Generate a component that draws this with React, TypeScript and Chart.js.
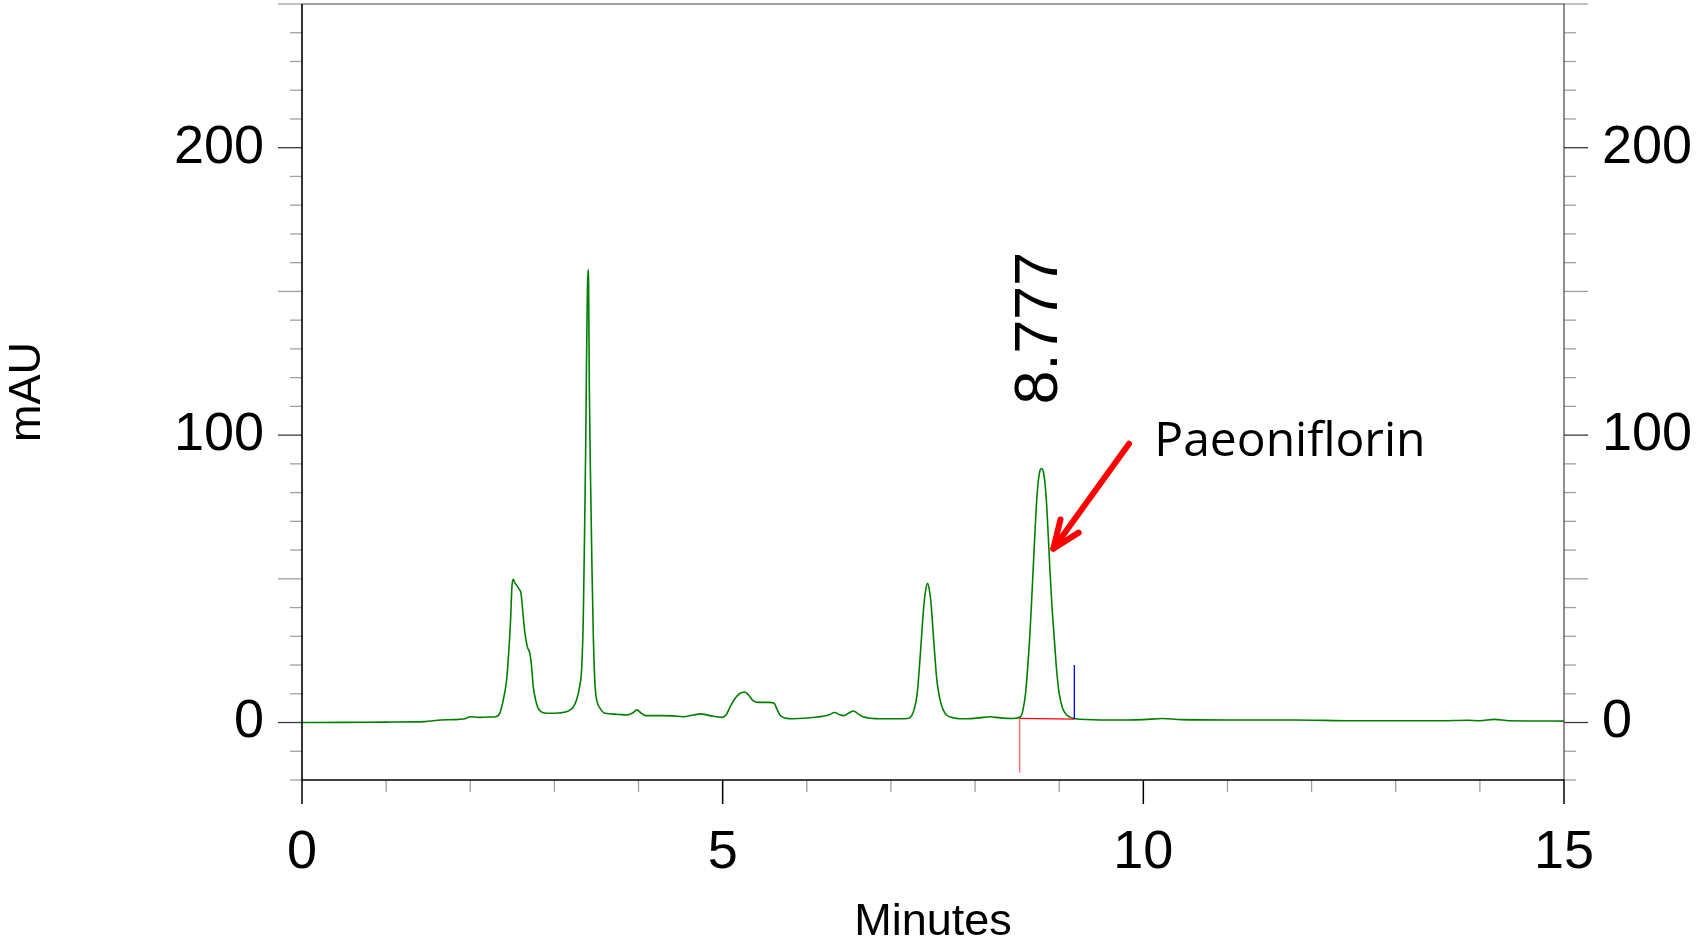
import React, { useEffect, useRef } from 'react';
import { Chart, registerables } from 'chart.js';

Chart.register(...registerables);

// ---- Data ----
const times = [
  0.0, 0.5, 1.0, 1.46, 1.65, 1.8, 1.92, 2.0, 2.1, 2.2, 2.3, 2.35, 2.392, 2.432, 2.451, 2.479, 2.495, 2.511,
  2.53, 2.551, 2.58, 2.603, 2.63, 2.65, 2.678, 2.709, 2.729, 2.749, 2.777, 2.808, 2.868, 2.95, 3.05, 3.15,
  3.22, 3.263, 3.303, 3.323, 3.343, 3.355, 3.371, 3.383, 3.391, 3.399, 3.407, 3.415, 3.431, 3.447, 3.463,
  3.483, 3.51, 3.54, 3.6, 3.74, 3.86, 3.93, 3.98, 4.03, 4.08, 4.28, 4.41, 4.53, 4.65, 4.74, 4.85, 4.99,
  5.04, 5.09, 5.15, 5.2, 5.26, 5.3, 5.365, 5.43, 5.55, 5.61, 5.64, 5.68, 5.74, 5.84, 6.12, 6.26, 6.33,
  6.39, 6.44, 6.5, 6.555, 6.61, 6.67, 6.87, 7.1, 7.21, 7.25, 7.28, 7.31, 7.33, 7.35, 7.37, 7.39, 7.41,
  7.435, 7.46, 7.48, 7.5, 7.52, 7.545, 7.57, 7.59, 7.62, 7.66, 7.75, 7.9, 8.05, 8.18, 8.3, 8.45, 8.54,
  8.57, 8.6, 8.625, 8.65, 8.67, 8.69, 8.71, 8.73, 8.75, 8.77, 8.79, 8.81, 8.83, 8.85, 8.87, 8.89, 8.915,
  8.94, 8.97, 9.0, 9.04, 9.09, 9.19, 9.49, 9.8, 10.0, 10.23, 10.45, 11.0, 11.8, 12.5, 13.5, 13.85, 14.0,
  14.17, 14.35, 15.0,
];

const absorbance = [
  0.0, 0.05, 0.15, 0.3, 0.9, 1.0, 1.2, 2.0, 1.8, 1.9, 2.0, 3.2, 7.8, 14.8, 21.7, 35.6, 47.2, 49.8,
  48.6, 47.8, 46.4, 44.9, 36.8, 31.0, 26.4, 24.0, 19.4, 12.4, 7.8, 4.9, 3.4, 3.2, 3.3, 3.8,
  5.2, 7.8, 13.0, 18.2, 35.6, 58.8, 93.6, 128.3, 148, 157.5, 151.5, 116.7, 82, 53, 29.8,
  13.0, 7.0, 5.1, 3.2, 2.9, 2.6, 3.3, 4.4, 3.3, 2.4, 2.4, 2.3, 2.0, 2.6, 3.0, 2.4, 1.8,
  2.6, 5.5, 8.5, 10.0, 10.6, 9.8, 7.5, 7.0, 7.0, 6.8, 5.0, 2.6, 1.6, 1.3, 1.9, 2.6, 3.5,
  2.7, 2.4, 3.3, 4.0, 3.0, 2.0, 1.3, 1.3, 1.5, 2.6, 5.0, 9.5, 16, 24, 32.5, 40.3, 45.5,
  48.4, 45.5, 40.3, 32, 24, 15, 10, 7.2, 4.5, 2.6, 1.6, 1.3, 1.6, 2.0, 1.6, 1.4, 2.0,
  4.5, 10.1, 19, 29.8, 41, 53, 65, 76.2, 83.5, 87.5, 88.4, 87.5, 83.5, 76.2, 65, 53, 40,
  29.8, 18, 10.1, 5.0, 2.6, 1.3, 0.9, 0.9, 1.0, 1.4, 1.0, 0.9, 0.9, 0.6, 0.6, 0.8, 0.6,
  1.1, 0.6, 0.5,
];

const xRange = [0, 15];
const yRange = [-20, 250];
const xTickLabels = [0, 5, 10, 15];
const yTickLabels = [0, 100, 200];
const xMinorStep = 1;
const yMinorStep = 10;
const yMidStep = 50;

// integration marks of the labelled peak
const baselineTimes = [8.53, 9.18];
const baselineValues = [1.45, 1.2];
const startMarkerValues = [1.45, -17.5];
const endMarkerValues = [1.2, 20];

// peak annotation
const peakLabel = '8.777';
const peakRetention = 8.777;
const peakHeight = 88.4;
const compoundName = 'Paeoniflorin';
const compoundLabelPos = [10.13, 92.6];
const arrowFrom = [9.83, 97];
const arrowTo = [8.93, 60.5];

const FONT = "'Liberation Sans', Arial, Helvetica, sans-serif";

const decorations = {
  id: 'decorations',
  afterDatasetsDraw(chart: any) {
    const { ctx, chartArea: a, scales } = chart;
    const xs = scales.x;
    const ys = scales.y;
    ctx.save();

    const seg = (x1: number, y1: number, x2: number, y2: number) => {
      ctx.beginPath();
      ctx.moveTo(x1, y1);
      ctx.lineTo(x2, y2);
      ctx.stroke();
    };

    // y ticks (left and right)
    ctx.lineWidth = 1.3;
    for (let v = yRange[0]; v <= yRange[1] + 1e-9; v += yMinorStep) {
      const py = ys.getPixelForValue(v);
      const long = v % yMidStep === 0;
      const len = long ? 24 : 12;
      ctx.strokeStyle = yTickLabels.includes(v) ? '#3a3a3a' : '#a0a0a0';
      seg(a.left - len, py, a.left, py);
      seg(a.right, py, a.right + len, py);
    }

    // x ticks
    for (let v = xRange[0]; v <= xRange[1] + 1e-9; v += xMinorStep) {
      const px = xs.getPixelForValue(v);
      const major = xTickLabels.includes(v);
      ctx.strokeStyle = major ? '#000' : '#a0a0a0';
      ctx.lineWidth = major ? 1.5 : 1.3;
      seg(px, a.bottom, px, a.bottom + (major ? 24 : 12));
    }

    // frame
    ctx.strokeStyle = '#444';
    ctx.lineWidth = 1.2;
    seg(a.left, a.top, a.right, a.top);
    seg(a.right, a.top, a.right, a.bottom);
    ctx.strokeStyle = '#000';
    ctx.lineWidth = 1.6;
    seg(a.left, a.top, a.left, a.bottom);
    seg(a.left, a.bottom, a.right, a.bottom);

    // peak retention label (rotated)
    const ppx = xs.getPixelForValue(peakRetention);
    const ppy = ys.getPixelForValue(peakHeight);
    ctx.save();
    ctx.translate(ppx, ppy - 64);
    ctx.rotate(-Math.PI / 2);
    ctx.fillStyle = '#000';
    ctx.font = `61px ${FONT}`;
    ctx.textAlign = 'left';
    ctx.textBaseline = 'middle';
    ctx.fillText(peakLabel, 0, 0);
    ctx.restore();

    // arrow
    const ax0 = xs.getPixelForValue(arrowFrom[0]);
    const ay0 = ys.getPixelForValue(arrowFrom[1]);
    const ax1 = xs.getPixelForValue(arrowTo[0]);
    const ay1 = ys.getPixelForValue(arrowTo[1]);
    ctx.strokeStyle = '#ff0000';
    ctx.lineWidth = 6;
    ctx.lineCap = 'round';
    ctx.lineJoin = 'round';
    seg(ax0, ay0, ax1, ay1);
    const ang = Math.atan2(ay0 - ay1, ax0 - ax1);
    const hl = 30;
    const ha = (22 * Math.PI) / 180;
    ctx.beginPath();
    ctx.moveTo(ax1 + hl * Math.cos(ang - ha), ay1 + hl * Math.sin(ang - ha));
    ctx.lineTo(ax1, ay1);
    ctx.lineTo(ax1 + hl * Math.cos(ang + ha), ay1 + hl * Math.sin(ang + ha));
    ctx.stroke();

    // compound name
    ctx.fillStyle = '#000';
    ctx.font = `48px 'Open Sans', 'Noto Sans', sans-serif`;
    ctx.textAlign = 'left';
    ctx.textBaseline = 'alphabetic';
    ctx.fillText(
      compoundName,
      xs.getPixelForValue(compoundLabelPos[0]),
      ys.getPixelForValue(compoundLabelPos[1])
    );

    ctx.restore();
  },
};

const clearPadding = (s: any) => {
  s.paddingTop = 0;
  s.paddingBottom = 0;
  s.paddingLeft = 0;
  s.paddingRight = 0;
};

export default function App() {
  const ref = useRef<HTMLCanvasElement | null>(null);

  useEffect(() => {
    if (!ref.current) return;
    const trace = times.map((t, i) => ({ x: t, y: absorbance[i] }));
    const baseline = baselineTimes.map((t, i) => ({ x: t, y: baselineValues[i] }));
    const startMark = startMarkerValues.map((v) => ({ x: baselineTimes[0], y: v }));
    const endMark = endMarkerValues.map((v) => ({ x: baselineTimes[1], y: v }));

    const chart = new Chart(ref.current, {
      type: 'line',
      data: {
        datasets: [
          {
            data: baseline,
            borderColor: '#ff0000',
            borderWidth: 1.2,
            pointRadius: 0,
            fill: false,
          },
          {
            data: startMark,
            borderColor: 'rgba(255,60,60,0.7)',
            borderWidth: 1.5,
            pointRadius: 0,
            fill: false,
          },
          {
            data: endMark,
            borderColor: '#0000ff',
            borderWidth: 1.3,
            pointRadius: 0,
            fill: false,
          },
          {
            data: trace,
            borderColor: '#008000',
            borderWidth: 1.6,
            pointRadius: 0,
            fill: false,
            cubicInterpolationMode: 'monotone',
          },
        ],
      },
      options: {
        animation: false,
        responsive: true,
        maintainAspectRatio: false,
        layout: { padding: { top: 4, left: 0, right: 0, bottom: 0 } },
        plugins: { legend: { display: false }, tooltip: { enabled: false } },
        events: [],
        scales: {
          x: {
            type: 'linear',
            position: 'bottom',
            min: xRange[0],
            max: xRange[1],
            afterBuildTicks: (s: any) => {
              s.ticks = xTickLabels.map((v) => ({ value: v }));
            },
            afterFit: (s: any) => {
              s.height = 163;
              clearPadding(s);
            },
            grid: { display: false, drawTicks: false, tickLength: 0 },
            border: { display: false },
            ticks: {
              font: { family: FONT, size: 54, lineHeight: 1 },
              color: '#000',
              padding: 46,
              maxRotation: 0,
              autoSkip: false,
              callback: (v: any) => String(v),
            },
            title: {
              display: true,
              text: 'Minutes',
              font: { family: FONT, size: 45, lineHeight: 0.92 },
              color: '#000',
              padding: 0,
            },
          },
          y: {
            type: 'linear',
            position: 'left',
            min: yRange[0],
            max: yRange[1],
            afterBuildTicks: (s: any) => {
              s.ticks = yTickLabels.map((v) => ({ value: v }));
            },
            afterFit: (s: any) => {
              s.width = 302;
              clearPadding(s);
            },
            grid: { display: false, drawTicks: false, tickLength: 0 },
            border: { display: false },
            ticks: {
              font: { family: FONT, size: 54, lineHeight: 1 },
              color: '#000',
              padding: 38,
              autoSkip: false,
              callback: (v: any) => String(v),
            },
            title: {
              display: true,
              text: 'mAU',
              font: { family: FONT, size: 45, lineHeight: 1 },
              color: '#000',
              padding: { top: 5, bottom: 0 },
            },
          },
          y2: {
            type: 'linear',
            position: 'right',
            min: yRange[0],
            max: yRange[1],
            afterBuildTicks: (s: any) => {
              s.ticks = yTickLabels.map((v) => ({ value: v }));
            },
            afterFit: (s: any) => {
              s.width = 134;
              clearPadding(s);
            },
            grid: { display: false, drawTicks: false, tickLength: 0 },
            border: { display: false },
            ticks: {
              font: { family: FONT, size: 54, lineHeight: 1 },
              color: '#000',
              padding: 38,
              autoSkip: false,
              callback: (v: any) => String(v),
            },
          },
        },
      },
      plugins: [decorations],
    } as any);

    return () => chart.destroy();
  }, []);

  return (
    <div style={{ position: 'fixed', left: 0, top: 0, width: '1698px', height: '943px', background: '#fff' }}>
      <canvas ref={ref} />
    </div>
  );
}
